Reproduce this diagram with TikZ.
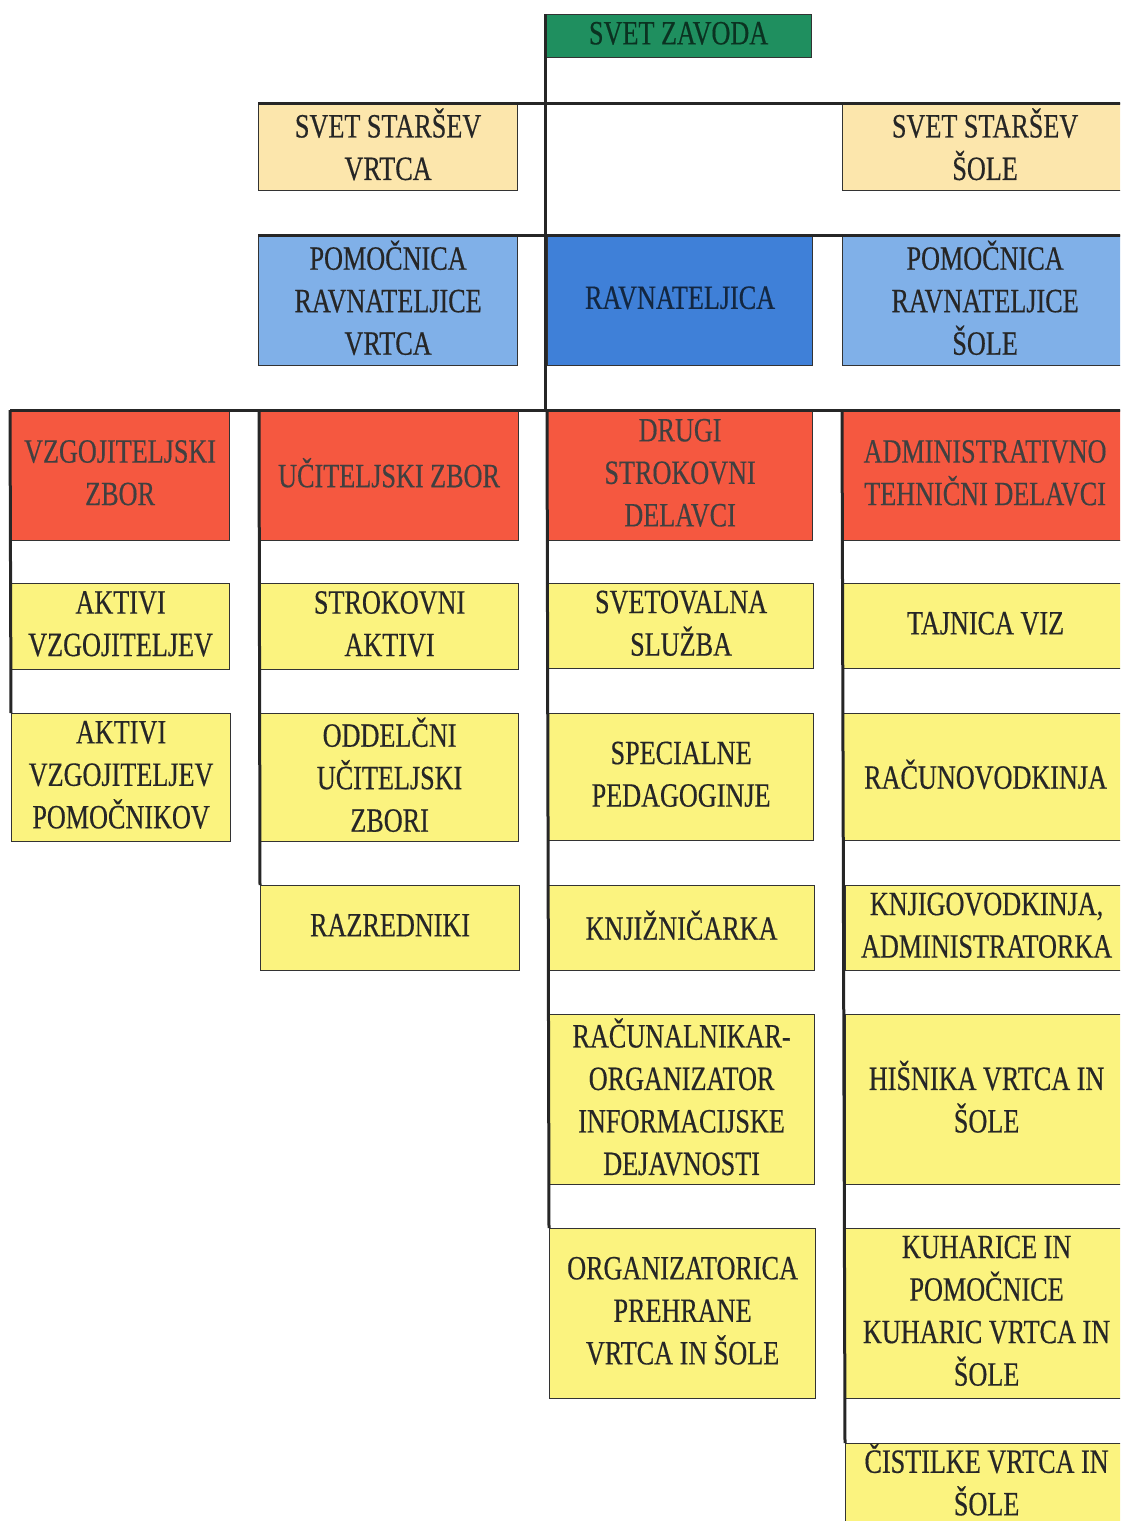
\documentclass[tikz,border=0pt]{standalone}
\usepackage{fontspec}
\setmainfont{Liberation Serif}[FakeStretch=0.77, FakeBold=0.4]
\definecolor{zelena}{RGB}{31,143,95}
\definecolor{bez}{RGB}{252,230,172}
\definecolor{svetlomodra}{RGB}{128,176,232}
\definecolor{modra}{RGB}{63,128,216}
\definecolor{rdeca}{RGB}{245,88,64}
\definecolor{rumena}{RGB}{251,243,127}
\tikzset{
  enota/.style={draw=black!80, line width=1.2pt, anchor=north west, align=center,
    inner sep=0pt, text depth=6pt, text=black!85, font=\fontsize{34}{42.5}\selectfont},
  povezava/.style={line width=3pt, draw=black!85},
}
\begin{document}
\begin{tikzpicture}[x=1pt, y=-1pt]
  \useasboundingbox (0,0) rectangle (1120,1521);
  \clip (0,0) rectangle (1120,1521);

  % vrh
  \node[enota, fill=zelena, text=zelena!35!black, minimum width=266pt, minimum height=43pt] (zavod) at (545,14) {SVET ZAVODA};
  \node[enota, fill=bez, minimum width=259pt, minimum height=87pt] (ssv) at (258,103) {SVET STARŠEV\\VRTCA};
  \node[enota, fill=bez, minimum width=285pt, minimum height=87pt] (sss) at (842,103) {SVET STARŠEV\\ŠOLE};

  % vodstvo
  \node[enota, fill=svetlomodra, minimum width=259pt, minimum height=130pt] (prv) at (258,235) {POMOČNICA\\RAVNATELJICE\\VRTCA};
  \node[enota, fill=modra, text=modra!30!black, minimum width=265pt, minimum height=130pt] (ravn) at (547,235) {RAVNATELJICA};
  \node[enota, fill=svetlomodra, minimum width=285pt, minimum height=130pt] (prs) at (842,235) {POMOČNICA\\RAVNATELJICE\\ŠOLE};

  % zbori in delavci
  \node[enota, fill=rdeca, text=black!75, minimum width=219pt, minimum height=130pt] (vz) at (10,410) {VZGOJITELJSKI\\ZBOR};
  \node[enota, fill=rdeca, text=black!75, minimum width=259pt, minimum height=130pt] (uz) at (259,410) {UČITELJSKI ZBOR};
  \node[enota, fill=rdeca, text=black!75, minimum width=265pt, minimum height=130pt] (dsd) at (547,410) {DRUGI\\STROKOVNI\\DELAVCI};
  \node[enota, fill=rdeca, text=black!75, minimum width=285pt, minimum height=130pt] (atd) at (842,410) {ADMINISTRATIVNO\\TEHNIČNI DELAVCI};

  % stolpec 1
  \node[enota, fill=rumena, minimum width=218pt, minimum height=86pt] (av) at (11,583) {AKTIVI\\VZGOJITELJEV};
  \node[enota, fill=rumena, minimum width=219pt, minimum height=128pt] (avp) at (11,713) {AKTIVI\\VZGOJITELJEV\\POMOČNIKOV};

  % stolpec 2
  \node[enota, fill=rumena, minimum width=258pt, minimum height=86pt] (sa) at (260,583) {STROKOVNI\\AKTIVI};
  \node[enota, fill=rumena, minimum width=258pt, minimum height=128pt] (ouz) at (260,713) {ODDELČNI\\UČITELJSKI\\ZBORI};
  \node[enota, fill=rumena, minimum width=259pt, minimum height=85pt] (raz) at (260,885) {RAZREDNIKI};

  % stolpec 3
  \node[enota, fill=rumena, minimum width=265pt, minimum height=85pt] (ss) at (548,583) {SVETOVALNA\\SLUŽBA};
  \node[enota, fill=rumena, minimum width=265pt, minimum height=127pt] (sp) at (548,713) {SPECIALNE\\PEDAGOGINJE};
  \node[enota, fill=rumena, minimum width=266pt, minimum height=85pt] (knj) at (548,885) {KNJIŽNIČARKA};
  \node[enota, fill=rumena, minimum width=266pt, minimum height=170pt] (rac) at (548,1014) {RAČUNALNIKAR-\\ORGANIZATOR\\INFORMACIJSKE\\DEJAVNOSTI};
  \node[enota, fill=rumena, minimum width=266pt, minimum height=170pt] (org) at (549,1228) {ORGANIZATORICA\\PREHRANE\\VRTCA IN ŠOLE};

  % stolpec 4
  \node[enota, fill=rumena, minimum width=284pt, minimum height=85pt] (taj) at (843,583) {TAJNICA VIZ};
  \node[enota, fill=rumena, minimum width=284pt, minimum height=127pt] (racu) at (843,713) {RAČUNOVODKINJA};
  \node[enota, fill=rumena, minimum width=282pt, minimum height=85pt] (knjig) at (845,885) {KNJIGOVODKINJA,\\ADMINISTRATORKA};
  \node[enota, fill=rumena, minimum width=282pt, minimum height=170pt] (his) at (845,1014) {HIŠNIKA VRTCA IN\\ŠOLE};
  \node[enota, fill=rumena, minimum width=282pt, minimum height=170pt] (kuh) at (845,1228) {KUHARICE IN\\POMOČNICE\\KUHARIC VRTCA IN\\ŠOLE};
  \node[enota, fill=rumena, text depth=16pt, minimum width=282pt, minimum height=84pt] (cis) at (845,1443) {ČISTILKE VRTCA IN\\ŠOLE};

  % povezave
  \draw[povezava] (zavod.north west) -- (zavod.north west |- vz.north);
  \draw[povezava] (ssv.north west) -- (sss.north east);
  \draw[povezava] (prv.north west) -- (prs.north east);
  \draw[povezava] (vz.north west) -- (atd.north east);
  \draw[povezava] (vz.north west) -- (avp.north west);
  \draw[povezava] (uz.north west) -- (raz.north west);
  \draw[povezava] (dsd.north west) -- (org.north west);
  \draw[povezava] (atd.north west) -- (cis.north west);
\end{tikzpicture}
\end{document}
